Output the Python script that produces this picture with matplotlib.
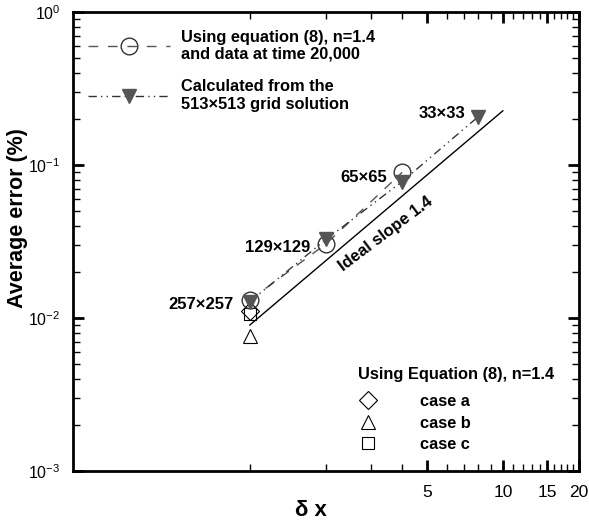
import matplotlib
matplotlib.use("Agg")
import matplotlib.pyplot as plt
from matplotlib.ticker import FixedLocator, NullFormatter, FixedFormatter, LogLocator

plt.rcParams['font.family'] = ['Liberation Sans', 'DejaVu Sans']
plt.rcParams['mathtext.fontset'] = 'custom'
plt.rcParams['mathtext.rm'] = 'Liberation Sans'
plt.rcParams['mathtext.it'] = 'Liberation Sans:italic'

# data
dx_eq = [1, 2, 4]
err_eq = [0.0131, 0.0305, 0.0895]
dx_grid = [1, 2, 4, 8]
err_grid = [0.0128, 0.0326, 0.078, 0.207]
grid_labels = ['257×257', '129×129', '65×65', '33×33']
ideal_x = [1, 10]
ideal_y0 = 0.0090
ideal_slope = 1.4
case_x = [1, 1, 1]
case_y = [0.0111, 0.0076, 0.0107]
case_names = ['case a', 'case b', 'case c']
case_markers = ['D', '^', 's']
x_major = [5, 10, 15, 20]
x_minor = [1, 2, 3, 4, 6, 7, 8, 9, 11, 12, 13, 14, 16, 17, 18, 19]

fig = plt.figure(figsize=(5.89, 5.25), dpi=100)
ax = fig.add_axes([73/589, 1-471/525, 506/589, 459/525])
ax.set_xscale('log')
ax.set_yscale('log')
ax.set_xlim(0.2, 20)
ax.set_ylim(1e-3, 1)

ideal_y = [ideal_y0 * (x / ideal_x[0]) ** ideal_slope for x in ideal_x]
ax.plot(ideal_x, ideal_y, '-', color='black', lw=1.0)

case_handles = []
case_sizes = {'D': 9, '^': 10, 's': 8.5}
for x, y, m in zip(case_x, case_y, case_markers):
    h, = ax.plot([x], [y], linestyle='none', marker=m, ms=case_sizes[m], mfc='none',
                 mec='black', mew=0.8)
    case_handles.append(h)

l1, = ax.plot(dx_eq, err_eq, linestyle=(0, (7, 7)), color='#555555', lw=1.0,
              marker='o', ms=12, mfc='none', mec='#333333', mew=1.0)
l2, = ax.plot(dx_grid, err_grid, linestyle=(0, (6, 3, 1, 3, 1, 3)), color='#333333', lw=1.0,
              marker='v', ms=10, mfc='#555555', mec='#555555')

# grid labels
offsets = [(-12, -2), (-11, -6), (-11, 3), (-9, 2)]
for x, y, lab, (ox, oy) in zip(dx_grid, err_grid, grid_labels, offsets):
    ax.annotate(lab, (x, y), xytext=(ox, oy), textcoords='offset points',
                ha='right', va='center', fontsize=12, fontweight='bold')

ax.text(3.45, 0.0354, 'Ideal slope 1.4', rotation=37, ha='center', va='center',
        fontsize=12, fontweight='bold', rotation_mode='anchor')

# ticks
ax.xaxis.set_major_locator(FixedLocator(x_major))
ax.xaxis.set_major_formatter(FixedFormatter([str(v) for v in x_major]))
ax.xaxis.set_minor_locator(FixedLocator(x_minor))
ax.xaxis.set_minor_formatter(NullFormatter())
ax.yaxis.set_major_locator(LogLocator(base=10, numticks=10))
ax.yaxis.set_minor_locator(LogLocator(base=10, subs=range(2, 10), numticks=20))
ax.yaxis.set_minor_formatter(NullFormatter())
ax.tick_params(which='both', direction='in', top=True, right=True)
ax.tick_params(axis='x', labelsize=12.5)
ax.tick_params(axis='y', labelsize=11.5)
ax.tick_params(which='major', length=8, width=2)
ax.tick_params(which='minor', length=5, width=1)
ax.tick_params(axis='x', which='both', pad=10)
ax.tick_params(axis='y', which='both', pad=9)
for sp in ax.spines.values():
    sp.set_linewidth(2)

ax.set_ylabel('Average error (%)', fontsize=15.5, fontweight='bold', va='center')
ax.yaxis.set_label_coords(-0.11, 0.55)
ax.set_xlabel('δ x', fontsize=16, fontweight='bold', va='center')
ax.xaxis.set_label_coords(0.47, -0.085)

leg1 = ax.legend([l1, l2], ['Using equation (8), n=1.4\nand data at time 20,000',
                            'Calculated from the\n513×513 grid solution'],
                 loc='upper left', bbox_to_anchor=(0.0, 0.994), frameon=False,
                 handlelength=5.0, handletextpad=0.7, labelspacing=1.05,
                 prop={'weight': 'bold', 'size': 11.8})
ax.add_artist(leg1)

leg2 = ax.legend(case_handles, case_names, loc='lower right',
                 bbox_to_anchor=(0.980, 0.009), frameon=False,
                 title='Using Equation (8), n=1.4', handlelength=1.2,
                 handletextpad=2.6, labelspacing=0.4,
                 prop={'weight': 'bold', 'size': 11.8},
                 title_fontproperties={'weight': 'bold', 'size': 11.8})
leg2._legend_box.align = 'left'
leg2._legend_box.sep = 8.7

fig.savefig('out.png', dpi=100)
